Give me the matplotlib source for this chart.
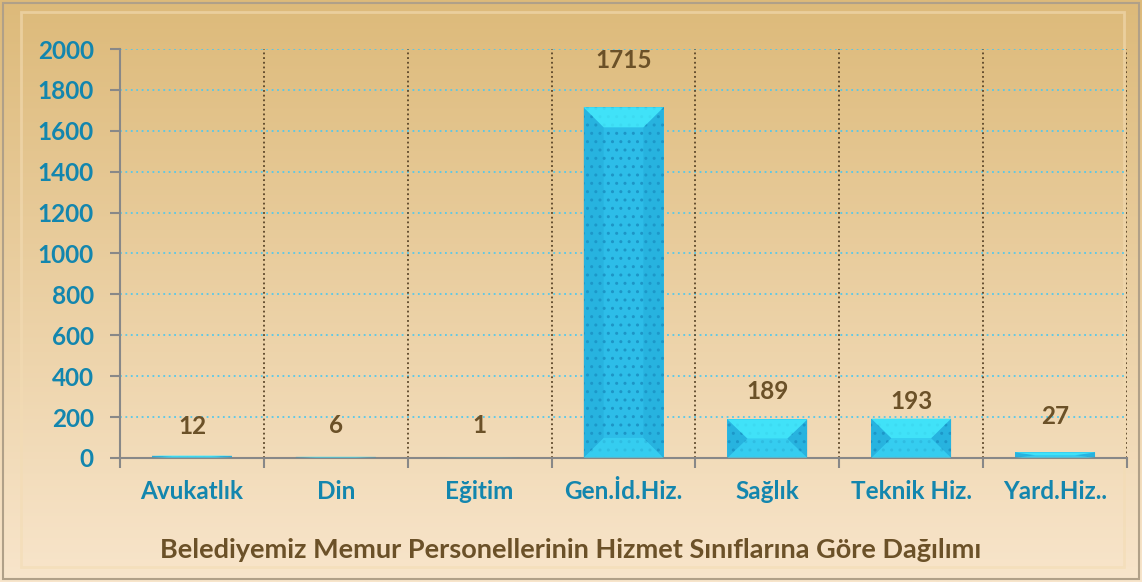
import numpy as np
import matplotlib.pyplot as plt
from matplotlib.patches import Polygon, Rectangle

plt.rcParams['font.family'] = ['Lato', 'DejaVu Sans']
plt.rcParams['font.weight'] = 'bold'

# veri
categories = ['Avukatlık', 'Din', 'Eğitim', 'Gen.İd.Hiz.', 'Sağlık', 'Teknik Hiz.', 'Yard.Hiz..']
values = [12, 6, 1, 1715, 189, 193, 27]
yticks = [0, 200, 400, 600, 800, 1000, 1200, 1400, 1600, 1800, 2000]
title = 'Belediyemiz Memur Personellerinin Hizmet Sınıflarına Göre Dağılımı'

# etiketlerin çubuk üstünden uzaklığı (veri birimi)
label_offset = [140, 155, 160, 231, 134, 81, 178]

teal = '#1386ae'
brown = '#6b5128'

fig = plt.figure(figsize=(11.42, 5.82), dpi=100)

# arka plan degrade
bg = fig.add_axes([0, 0, 1, 1], zorder=-5)
top_c = np.array([221, 186, 122]) / 255
bot_c = np.array([248, 229, 203]) / 255
t = np.linspace(0, 1, 200)[:, None, None]
grad = top_c * (1 - t) + bot_c * t
grad = np.repeat(grad, 2, axis=1)
bg.imshow(grad, aspect='auto', extent=[0, 1, 0, 1], origin='upper')
# çerçeve
bg.add_patch(Rectangle((0.003, 0.005), 0.994, 0.99, fill=False, ec='#b0a088', lw=1.5))
bg.add_patch(Rectangle((0.018, 0.025), 0.966, 0.955, fill=False, ec='#f3dcb4', lw=2, alpha=0.6))
bg.set_xlim(0, 1)
bg.set_ylim(0, 1)
bg.axis('off')

ax = fig.add_axes([0.1051, 0.2131, 0.8818, 0.7027])
ax.set_facecolor('none')
n = len(categories)
x = np.arange(n) + 0.5
w = 0.556

ax.set_xlim(0, n)
ax.set_ylim(0, 2000)

# ızgara
for yv in yticks[1:]:
    ax.axhline(yv, color='#55c8ea', lw=1.3, ls=(0, (1, 2)), zorder=1)
for xv in range(1, n + 1):
    ax.plot([xv, xv], [0, 2000], color='#5a4528', lw=1.3, ls=(0, (1, 1.6)), zorder=1)

# çubuklar (eğimli kenarlı)
bev_x = 0.14
bev_y = 98
for xi, v in zip(x, values):
    l, r = xi - w / 2, xi + w / 2
    ax.bar(xi, v, width=w, color='#2dbde8', edgecolor='#1d95c6', hatch='..', lw=0, zorder=2)
    d = min(bev_y, v / 2)
    dx = min(bev_x, w / 2)
    # sol ve sağ kenarlar
    ax.add_patch(Polygon([[l, 0], [l + dx, d], [l + dx, v - d], [l, v]], closed=True,
                         fc='#1c9ccd', alpha=0.3, lw=0, zorder=3))
    ax.add_patch(Polygon([[r, 0], [r - dx, d], [r - dx, v - d], [r, v]], closed=True,
                         fc='#1c9ccd', alpha=0.3, lw=0, zorder=3))
    # üst ve alt kenarlar
    ax.add_patch(Polygon([[l, v], [r, v], [r - dx, v - d], [l + dx, v - d]], closed=True,
                         fc='#45ecfd', alpha=0.8, lw=0, zorder=3))
    ax.add_patch(Polygon([[l, 0], [r, 0], [r - dx, d], [l + dx, d]], closed=True,
                         fc='#3cd8f6', alpha=0.6, lw=0, zorder=3))

for xi, v, off in zip(x, values, label_offset):
    ax.text(xi, v + off, str(v), ha='center', va='center', color=brown,
            fontsize=17.5, fontweight='bold', zorder=4)

# eksenler
for s in ['top', 'right']:
    ax.spines[s].set_visible(False)
for s in ['left', 'bottom']:
    ax.spines[s].set_color('#888888')
    ax.spines[s].set_linewidth(1.5)

ax.set_yticks(yticks)
ax.set_yticklabels([str(v) for v in yticks], color=teal, fontsize=17.5, fontweight='bold')
ax.tick_params(axis='y', length=7, width=1.5, color='#888888', pad=12)

ax.set_xticks(range(n + 1))
ax.set_xticklabels([])
ax.tick_params(axis='x', length=7, width=1.5, color='#888888')
ax.set_xticks(x, minor=True)
ax.set_xticklabels(categories, minor=True, color=teal, fontsize=17.5, fontweight='bold')
ax.tick_params(axis='x', which='minor', length=0, pad=16)

fig.text(0.5, 0.055, title, ha='center', va='center', color=brown,
         fontsize=19.5, fontweight='bold')

fig.savefig('out.png', dpi=100)
